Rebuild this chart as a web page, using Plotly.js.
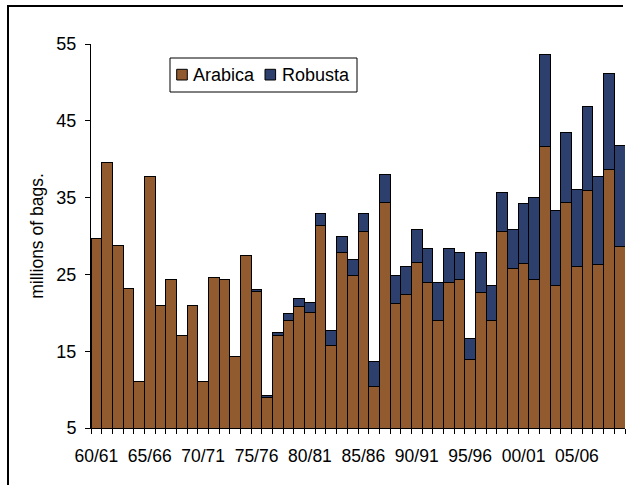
<!DOCTYPE html>
<html>
<head>
<meta charset="utf-8">
<script src="https://cdn.plot.ly/plotly-3.0.1.min.js"></script>
<style>
  html, body { margin: 0; padding: 0; background: #fff; }
  #wrap { position: relative; width: 631px; height: 485px; overflow: hidden; }
  #chart { position: absolute; left: 0; top: 0; width: 631px; height: 485px; }
  #frame { position: absolute; left: 7px; top: 5px; width: 614px; height: 490px;
           border-left: 2px solid #000; border-top: 2px solid #000; pointer-events: none; }
</style>
</head>
<body>
<div id="wrap">
  <div id="chart"></div>
  <div id="frame"></div>
</div>
<script>
const seasons = ["60/61","61/62","62/63","63/64","64/65","65/66","66/67","67/68","68/69","69/70",
  "70/71","71/72","72/73","73/74","74/75","75/76","76/77","77/78","78/79","79/80",
  "80/81","81/82","82/83","83/84","84/85","85/86","86/87","87/88","88/89","89/90",
  "90/91","91/92","92/93","93/94","94/95","95/96","96/97","97/98","98/99","99/00",
  "00/01","01/02","02/03","03/04","04/05","05/06","06/07","07/08","08/09","09/10"];

const arabica = [29.7,39.6,28.8,23.2,11.0,37.7,21.0,24.4,17.0,21.0,
  11.0,24.6,24.4,14.3,27.4,22.8,9.0,17.0,19.0,20.8,
  20.1,31.4,15.7,27.9,24.9,30.6,10.4,34.3,21.2,22.4,
  26.5,24.0,19.0,24.0,24.4,13.9,22.6,19.0,30.6,25.8,
  26.4,24.4,41.6,23.5,34.3,26.0,35.9,26.3,38.6,28.6];

const robusta = [0,0,0,0,0,0,0,0,0,0,
  0,0,0,0,0,0.2,0.2,0.5,0.9,1.1,
  1.2,1.5,2.0,2.0,2.1,2.3,3.3,3.7,3.7,3.6,
  4.4,4.4,5.0,4.4,3.5,2.8,5.3,4.5,5.0,5.0,
  7.8,10.6,12.0,9.8,9.2,10.1,10.9,11.4,12.6,13.2];

// shown tick labels: every fifth season
const tickLabels = seasons.map((s, i) => (i % 5 === 0 ? s : ""));
const seriesNames = ["Arabica", "Robusta"];
const seriesColors = ["#925B2F", "#2D3F6C"];

const labelAlias = {};
seasons.forEach((s, i) => { if (tickLabels[i] !== s) labelAlias[s] = tickLabels[i]; });

const W = 631, H = 485;
const M = { l: 91, r: 6, t: 44, b: 57 };
const PW = W - M.l - M.r, PH = H - M.t - M.b;
const px = v => (v - M.l) / PW;     // pixel x -> paper x
const py = v => (H - M.b - v) / PH; // pixel y -> paper y

const FF = "Liberation Sans, Arial, sans-serif";
const edge = { color: "#000", width: 1 };

const traces = [
  { type: "bar", name: seriesNames[0], x: seasons, y: arabica,
    marker: { color: seriesColors[0], line: edge } },
  { type: "bar", name: seriesNames[1], x: seasons, y: robusta,
    marker: { color: seriesColors[1], line: edge } }
];

// Boxed key in the style of the original legend
const legendBox = { x0: 170, x1: 357, y0: 58, y1: 92 };
const swatchX = [176.7, 265];
const swatchY = [69.3, 80];
const shapes = [
  { type: "rect", xref: "paper", yref: "paper",
    x0: px(legendBox.x0), x1: px(legendBox.x1), y0: py(legendBox.y1), y1: py(legendBox.y0),
    line: { color: "#000", width: 1 }, fillcolor: "#fff", layer: "above" }
];
const annotations = [];
seriesNames.forEach((name, k) => {
  shapes.push({ type: "rect", xref: "paper", yref: "paper",
    x0: px(swatchX[k]), x1: px(swatchX[k] + 10.6), y0: py(swatchY[1]), y1: py(swatchY[0]),
    line: { color: "#000", width: 1 }, fillcolor: seriesColors[k], layer: "above" });
  annotations.push({ xref: "paper", yref: "paper", x: px(swatchX[k] + 14.5), y: py(75),
    xanchor: "left", yanchor: "middle", showarrow: false, text: name,
    font: { family: FF, size: 18, color: "#000" } });
});

const layout = {
  width: W, height: H,
  margin: { l: M.l, r: M.r, t: M.t, b: M.b, pad: 0 },
  paper_bgcolor: "#fff", plot_bgcolor: "#fff",
  barmode: "stack", bargap: 0,
  font: { family: FF, size: 18, color: "#000" },
  showlegend: false,
  shapes: shapes,
  annotations: annotations,
  xaxis: {
    type: "category", categoryorder: "array", categoryarray: seasons,
    tickmode: "linear", tick0: 0, dtick: 1, labelalias: labelAlias,
    tickson: "boundaries", ticks: "outside", ticklen: 5, tickcolor: "#000", tickwidth: 1,
    showline: true, linecolor: "#000", linewidth: 1,
    showgrid: false, zeroline: false, tickangle: 0,
    ticklabelstandoff: 12,
    tickfont: { family: FF, size: 17.5, color: "#000" }
  },
  yaxis: {
    range: [5, 55], tickvals: [5, 15, 25, 35, 45, 55],
    ticks: "outside", ticklen: 5, tickcolor: "#000", tickwidth: 1,
    showline: true, linecolor: "#000", linewidth: 1,
    showgrid: false, zeroline: false,
    ticklabelstandoff: 5,
    tickfont: { family: FF, size: 18, color: "#000" },
    title: { text: "millions of bags.", font: { family: FF, size: 17.5, color: "#000" }, standoff: 8 }
  }
};

Plotly.newPlot("chart", traces, layout, { displayModeBar: false, staticPlot: true });
</script>
</body>
</html>
